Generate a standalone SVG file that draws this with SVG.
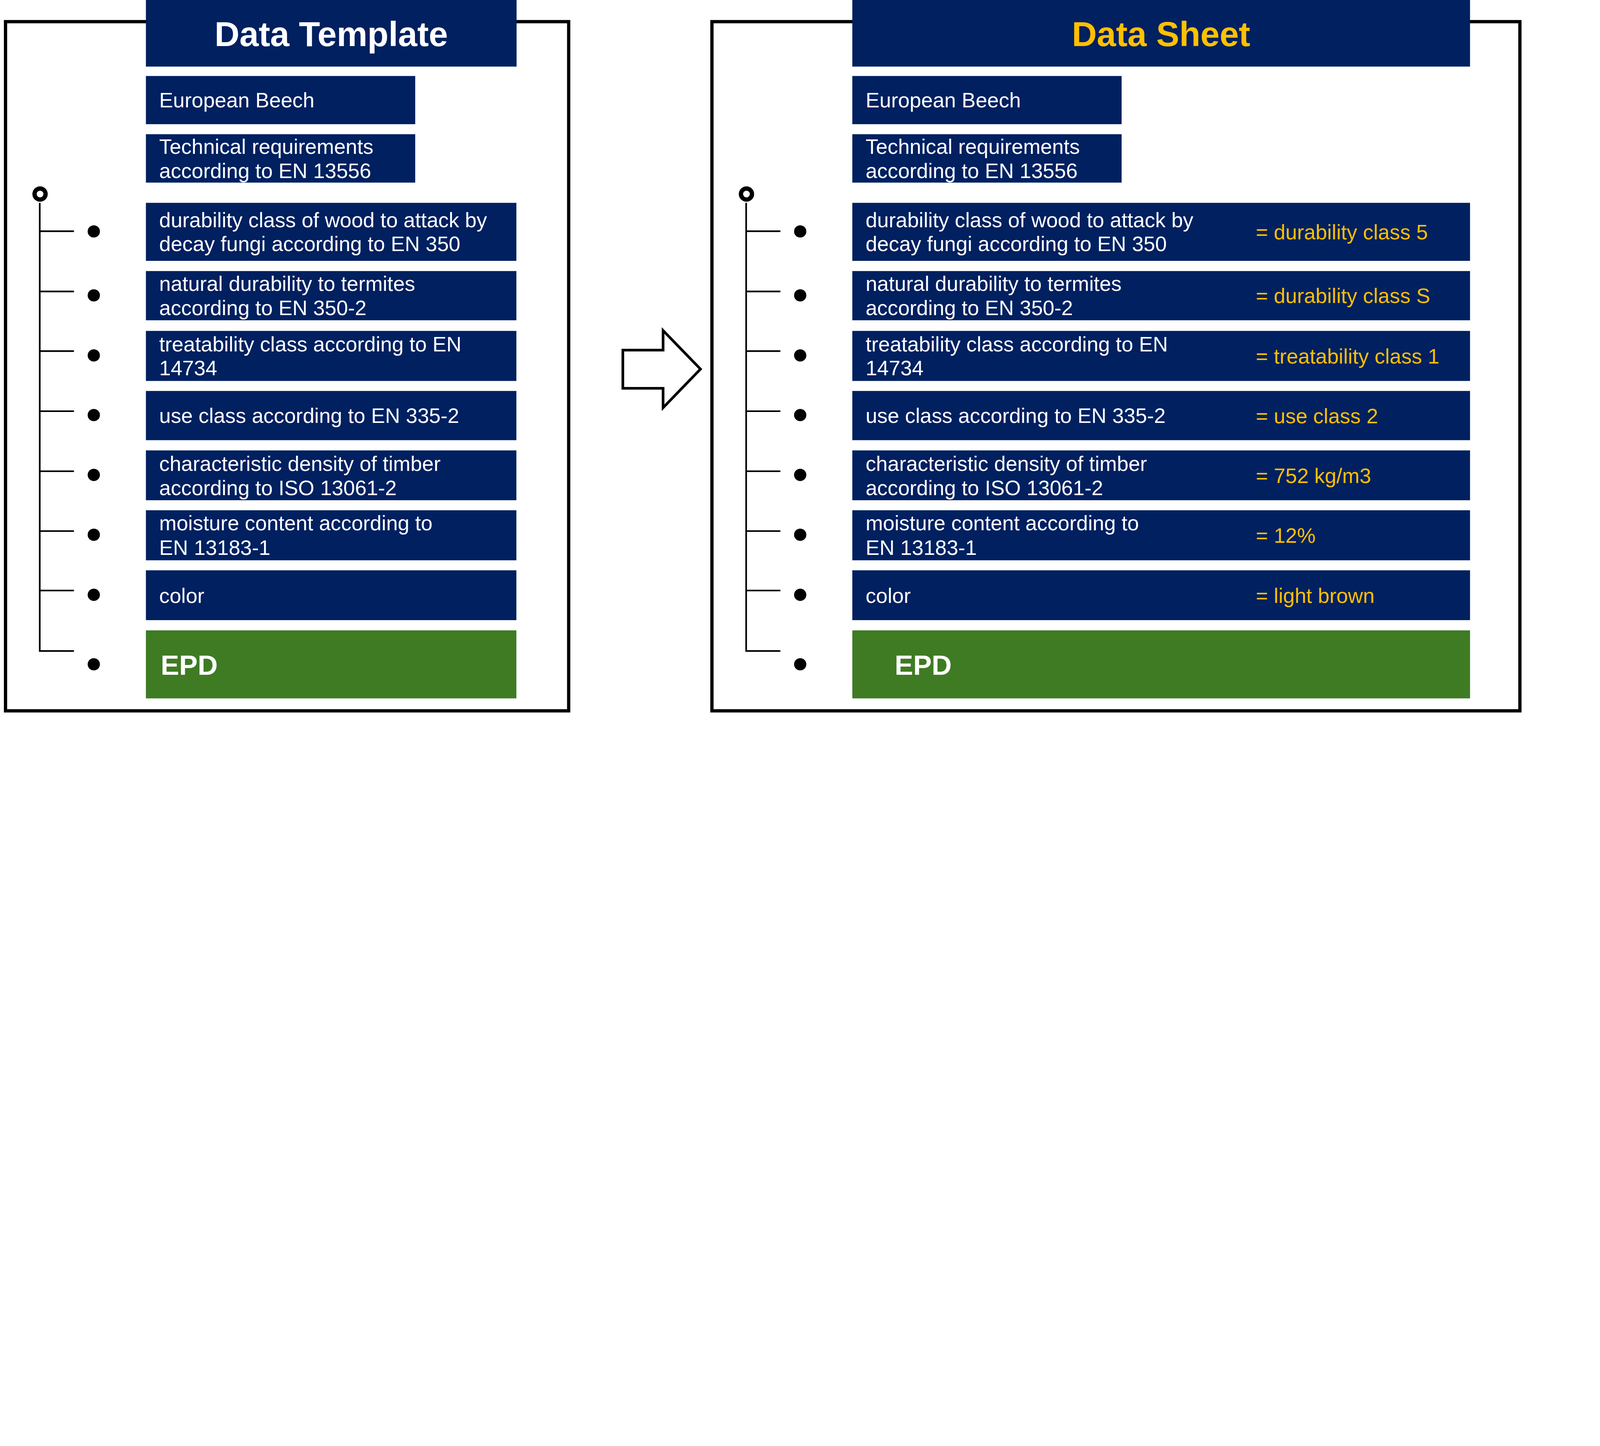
<svg xmlns="http://www.w3.org/2000/svg" width="7830" height="3703" viewBox="0 0 7830 3703" style="max-width:100vw;height:auto">
<style>
.frame{fill:none;stroke:#000;stroke-width:16}
.box{fill:#002060}
.epd{fill:#3E7B23}
.lbl{font-family:"Liberation Sans",Arial,sans-serif;font-size:102px;fill:#fff}
.val{font-family:"Liberation Sans",Arial,sans-serif;font-size:102px;fill:#FFC000}
.ttl{font-family:"Liberation Sans",Arial,sans-serif;font-size:169px;font-weight:bold;text-anchor:middle}
.epdt{font-family:"Liberation Sans",Arial,sans-serif;font-size:136px;font-weight:bold;fill:#fff}
.ln{stroke:#000;stroke-width:8;fill:none}
.dot{fill:#000}
.ring{fill:#fff;stroke:#000;stroke-width:21}
</style>
<rect width="7830" height="3703" fill="#fff"/>

<!-- frames -->
<rect id="frame-left" class="frame" x="27" y="106" width="2756" height="3374"/>
<rect id="frame-right" class="frame" x="3484" y="106" width="3954" height="3374"/>

<!-- transition arrow -->
<g id="arrow">
<polygon points="3048,1714 3245,1714 3245,1618 3428,1807 3245,1996 3245,1901 3048,1901" fill="#fff" stroke="#000" stroke-width="13" stroke-linejoin="miter"/>
</g>

<!-- connectors -->
<g id="connectors">
<g id="tree-left">
<path class="ln" d="M194.5,993 V3187 H362"/>
<line class="ln" x1="194" y1="1132" x2="362" y2="1132"/>
<line class="ln" x1="194" y1="1427" x2="362" y2="1427"/>
<line class="ln" x1="194" y1="1719" x2="362" y2="1719"/>
<line class="ln" x1="194" y1="2013" x2="362" y2="2013"/>
<line class="ln" x1="194" y1="2307" x2="362" y2="2307"/>
<line class="ln" x1="194" y1="2600" x2="362" y2="2600"/>
<line class="ln" x1="194" y1="2891" x2="362" y2="2891"/>
<circle class="ring" cx="196" cy="950" r="27"/>
<circle class="dot" cx="459" cy="1133" r="30"/>
<circle class="dot" cx="459" cy="1446" r="30"/>
<circle class="dot" cx="459" cy="1740" r="30"/>
<circle class="dot" cx="459" cy="2032" r="30"/>
<circle class="dot" cx="459" cy="2325" r="30"/>
<circle class="dot" cx="459" cy="2618" r="30"/>
<circle class="dot" cx="459" cy="2912" r="30"/>
<circle class="dot" cx="459" cy="3252" r="30"/>
</g>
<g id="tree-right">
<path class="ln" d="M3651.5,993 V3187 H3819"/>
<line class="ln" x1="3651" y1="1132" x2="3819" y2="1132"/>
<line class="ln" x1="3651" y1="1427" x2="3819" y2="1427"/>
<line class="ln" x1="3651" y1="1719" x2="3819" y2="1719"/>
<line class="ln" x1="3651" y1="2013" x2="3819" y2="2013"/>
<line class="ln" x1="3651" y1="2307" x2="3819" y2="2307"/>
<line class="ln" x1="3651" y1="2600" x2="3819" y2="2600"/>
<line class="ln" x1="3651" y1="2891" x2="3819" y2="2891"/>
<circle class="ring" cx="3653" cy="950" r="27"/>
<circle class="dot" cx="3916" cy="1133" r="30"/>
<circle class="dot" cx="3916" cy="1446" r="30"/>
<circle class="dot" cx="3916" cy="1740" r="30"/>
<circle class="dot" cx="3916" cy="2032" r="30"/>
<circle class="dot" cx="3916" cy="2325" r="30"/>
<circle class="dot" cx="3916" cy="2618" r="30"/>
<circle class="dot" cx="3916" cy="2912" r="30"/>
<circle class="dot" cx="3916" cy="3252" r="30"/>
</g>
</g>

<!-- LEFT PANEL: Data Template -->
<g id="L-title"><rect class="box" x="714" y="0" width="1814" height="326"/><text class="ttl" x="1621" y="225" fill="#fff">Data Template</text></g>
<g id="L-species"><rect class="box" x="714" y="372" width="1318" height="236"/><text class="lbl" x="779" y="526">European Beech</text></g>
<g id="L-tech"><rect class="box" x="714" y="657" width="1318" height="237"/><text class="lbl" x="779" y="753">Technical requirements</text><text class="lbl" x="779" y="871">according to EN 13556</text></g>
<g id="L-r1"><rect class="box" x="714" y="993" width="1813" height="284"/><text class="lbl" x="779" y="1112">durability class of wood to attack by</text><text class="lbl" x="779" y="1230">decay fungi according to EN 350</text></g>
<g id="L-r2"><rect class="box" x="714" y="1327" width="1813" height="241"/><text class="lbl" x="779" y="1425">natural durability to termites</text><text class="lbl" x="779" y="1543">according to EN 350-2</text></g>
<g id="L-r3"><rect class="box" x="714" y="1620" width="1813" height="245"/><text class="lbl" x="779" y="1720">treatability class according to EN</text><text class="lbl" x="779" y="1838">14734</text></g>
<g id="L-r4"><rect class="box" x="714" y="1914" width="1813" height="241"/><text class="lbl" x="779" y="2071">use class according to EN 335-2</text></g>
<g id="L-r5"><rect class="box" x="714" y="2205" width="1813" height="244"/><text class="lbl" x="779" y="2305">characteristic density of timber</text><text class="lbl" x="779" y="2424">according to ISO 13061-2</text></g>
<g id="L-r6"><rect class="box" x="714" y="2498" width="1813" height="245"/><text class="lbl" x="779" y="2597">moisture content according to</text><text class="lbl" x="779" y="2716">EN 13183-1</text></g>
<g id="L-r7"><rect class="box" x="714" y="2792" width="1813" height="244"/><text class="lbl" x="779" y="2951">color</text></g>
<g id="L-epd"><rect class="epd" x="714" y="3086" width="1813" height="333"/><text class="epdt" x="786" y="3303">EPD</text></g>

<!-- RIGHT PANEL: Data Sheet -->
<g id="R-title"><rect class="box" x="4171" y="0" width="3023" height="326"/><text class="ttl" x="5682" y="225" fill="#FFC000">Data Sheet</text></g>
<g id="R-species"><rect class="box" x="4171" y="372" width="1318" height="236"/><text class="lbl" x="4236" y="526">European Beech</text></g>
<g id="R-tech"><rect class="box" x="4171" y="657" width="1318" height="237"/><text class="lbl" x="4236" y="753">Technical requirements</text><text class="lbl" x="4236" y="871">according to EN 13556</text></g>
<g id="R-r1"><rect class="box" x="4171" y="993" width="3023" height="284"/><text class="lbl" x="4236" y="1112">durability class of wood to attack by</text><text class="lbl" x="4236" y="1230">decay fungi according to EN 350</text><text class="val" x="6146" y="1171">= durability class 5</text></g>
<g id="R-r2"><rect class="box" x="4171" y="1327" width="3023" height="241"/><text class="lbl" x="4236" y="1425">natural durability to termites</text><text class="lbl" x="4236" y="1543">according to EN 350-2</text><text class="val" x="6146" y="1483">= durability class S</text></g>
<g id="R-r3"><rect class="box" x="4171" y="1620" width="3023" height="245"/><text class="lbl" x="4236" y="1720">treatability class according to EN</text><text class="lbl" x="4236" y="1838">14734</text><text class="val" x="6146" y="1779">= treatability class 1</text></g>
<g id="R-r4"><rect class="box" x="4171" y="1914" width="3023" height="241"/><text class="lbl" x="4236" y="2071">use class according to EN 335-2</text><text class="val" x="6146" y="2072">= use class 2</text></g>
<g id="R-r5"><rect class="box" x="4171" y="2205" width="3023" height="244"/><text class="lbl" x="4236" y="2305">characteristic density of timber</text><text class="lbl" x="4236" y="2424">according to ISO 13061-2</text><text class="val" x="6146" y="2365">= 752 kg/m3</text></g>
<g id="R-r6"><rect class="box" x="4171" y="2498" width="3023" height="245"/><text class="lbl" x="4236" y="2597">moisture content according to</text><text class="lbl" x="4236" y="2716">EN 13183-1</text><text class="val" x="6146" y="2658">= 12%</text></g>
<g id="R-r7"><rect class="box" x="4171" y="2792" width="3023" height="244"/><text class="lbl" x="4236" y="2951">color</text><text class="val" x="6146" y="2951">= light brown</text></g>
<g id="R-epd"><rect class="epd" x="4171" y="3086" width="3023" height="333"/><text class="epdt" x="4378" y="3303">EPD</text></g>
</svg>
